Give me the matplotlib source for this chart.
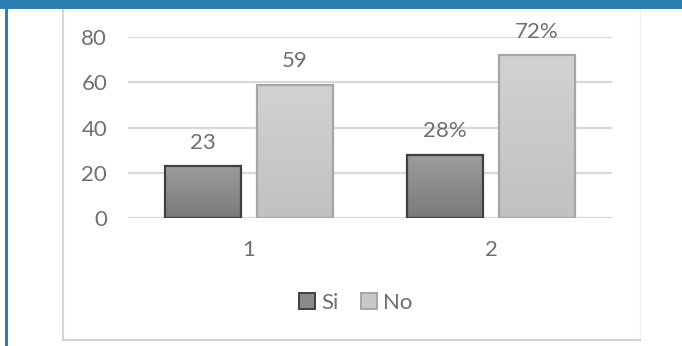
import numpy as np
import matplotlib
matplotlib.use("Agg")
import matplotlib.pyplot as plt
from matplotlib.patches import Rectangle, Patch
from matplotlib.colors import LinearSegmentedColormap

categories = ["1", "2"]
si_values = [23, 28]
no_values = [59, 72]
si_labels = ["23", "28%"]
no_labels = ["59", "72%"]

plt.rcParams["font.family"] = ["Lato", "DejaVu Sans"]
text_gray = "#6f6f6f"
grid_gray = "#d9d9d9"

fig = plt.figure(figsize=(6.82, 3.46), dpi=100)
fig.patch.set_facecolor("white")

# frame around the chart and the blue page decoration
W, H = 682.0, 346.0
fig.patches.append(Rectangle((63 / W, 6 / H), 577 / W, 1, transform=fig.transFigure,
                             fill=False, edgecolor="#f0f0f0", lw=1.0, zorder=0))
fig.lines.append(plt.Line2D([63 / W, 63 / W], [6 / H, 1], transform=fig.transFigure,
                            color="#d3d3d3", lw=1.3))
fig.lines.append(plt.Line2D([63 / W, 640 / W], [6 / H, 6 / H], transform=fig.transFigure,
                            color="#d3d3d3", lw=1.6))
fig.patches.append(Rectangle((0, 1 - 9 / H), 1, 9 / H, transform=fig.transFigure,
                             facecolor="#2a7eb1", edgecolor="none", zorder=5))
fig.patches.append(Rectangle((5 / W, 0), 2.5 / W, 1, transform=fig.transFigure,
                             facecolor="#2a7eb1", edgecolor="none", zorder=5))

ax = fig.add_axes([128 / W, 1 - 218 / H, 484 / W, 181 / H])
x = np.arange(len(categories))
width = 0.314
offset = 0.19

si_bars = ax.bar(x - offset, si_values, width, facecolor="none",
                 edgecolor="#404040", lw=1.6, zorder=3)
no_bars = ax.bar(x + offset, no_values, width, facecolor="none",
                 edgecolor="#a6a6a6", lw=1.6, zorder=3)


def shade(bars, top, bottom):
    cmap = LinearSegmentedColormap.from_list("g", [bottom, top])
    grad = np.linspace(0, 1, 64).reshape(-1, 1)
    for b in bars:
        im = ax.imshow(grad, cmap=cmap, aspect="auto", origin="lower",
                       extent=(b.get_x(), b.get_x() + b.get_width(), 0, b.get_height()),
                       zorder=2)
        im.set_clip_path(b)


shade(si_bars, "#9d9d9d", "#7a7a7a")
shade(no_bars, "#d2d2d2", "#c1c1c1")

for bars, labels in ((si_bars, si_labels), (no_bars, no_labels)):
    for b, lab in zip(bars, labels):
        ax.annotate(lab, (b.get_x() + b.get_width() / 2, b.get_height()),
                    xytext=(0, 12.5), textcoords="offset points",
                    ha="center", va="baseline", fontsize=16, color=text_gray)

ax.set_xlim(-0.5, len(categories) - 0.5)
ax.set_ylim(0, 80)
ax.set_yticks([0, 20, 40, 60, 80])
ax.set_xticks(x)
ax.set_xticklabels(categories)
ax.yaxis.grid(True, color=grid_gray, lw=1.6, zorder=1)
ax.set_axisbelow(True)
ax.tick_params(length=0, labelsize=16, labelcolor=text_gray)
ax.tick_params(axis="y", pad=15)
ax.tick_params(axis="x", pad=16)
for s in ax.spines.values():
    s.set_visible(False)
ax.set_facecolor("none")

handles = [Patch(facecolor="#8a8a8a", edgecolor="#404040", lw=1.4, label="Si"),
           Patch(facecolor="#c8c8c8", edgecolor="#a6a6a6", lw=1.4, label="No")]
leg = fig.legend(handles=handles, loc="center", bbox_to_anchor=(356 / W, 1 - 303 / H),
                 ncol=2, frameon=False, fontsize=16, handlelength=0.7,
                 handleheight=0.7, handletextpad=0.3, columnspacing=1.0,
                 labelcolor=text_gray)

fig.savefig("out.png", dpi=100)
